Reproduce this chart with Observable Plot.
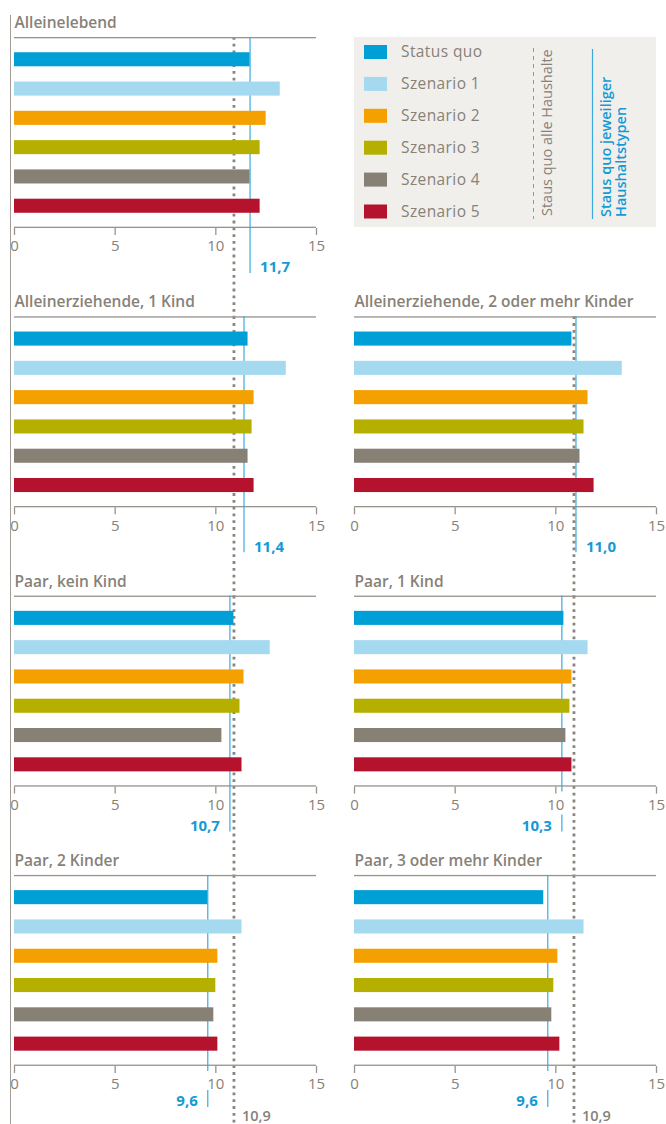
<!DOCTYPE html>
<html>
<head>
<meta charset="utf-8">
<script src="https://cdn.jsdelivr.net/npm/d3@7"></script>
<script src="https://cdn.jsdelivr.net/npm/@observablehq/plot@0.6"></script>
<style>
  html, body { margin: 0; padding: 0; background: #fff; }
  #chart { position: relative; width: 666px; height: 1124px; font-family: "Open Sans", sans-serif; }
  #leftline { position: absolute; left: 10px; top: 15px; bottom: 0; width: 1px; background: #a29d96; }
  #legend { position: absolute; left: 354px; top: 37px; }
  #chart svg { overflow: visible; }
</style>
</head>
<body>
<div id="chart"><div id="leftline"></div></div>
<script>
// ---------- data ----------
const panelTitles = [
  "Alleinelebend",
  "Alleinerziehende, 1 Kind",
  "Alleinerziehende, 2 oder mehr Kinder",
  "Paar, kein Kind",
  "Paar, 1 Kind",
  "Paar, 2 Kinder",
  "Paar, 3 oder mehr Kinder"
];
const scenarios = ["Status quo", "Szenario 1", "Szenario 2", "Szenario 3", "Szenario 4", "Szenario 5"];
const alleinlebend      = [11.7, 13.2, 12.5, 12.2, 11.7, 12.2];
const alleinerz1Kind    = [11.6, 13.5, 11.9, 11.8, 11.6, 11.9];
const alleinerz2Kinder  = [10.8, 13.3, 11.6, 11.4, 11.2, 11.9];
const paarKeinKind      = [10.9, 12.7, 11.4, 11.2, 10.3, 11.3];
const paar1Kind         = [10.4, 11.6, 10.8, 10.7, 10.5, 10.8];
const paar2Kinder       = [9.6, 11.3, 10.1, 10.0, 9.9, 10.1];
const paar3Kinder       = [9.4, 11.4, 10.1, 9.9, 9.8, 10.2];
const statusQuoTyp      = [11.7, 11.4, 11.0, 10.7, 10.3, 9.6, 9.6];
const statusQuoAlle     = 10.9;
const xTicks            = [0, 5, 10, 15];
const legendLineLabels  = ["Staus quo alle Haushalte", "Staus quo jeweiliger", "Haushaltstypen"];

// ---------- styles ----------
const scenarioColors = ["#009fd5", "#a4d9ef", "#f4a000", "#b5b000", "#878074", "#b4122d"];
const gray = "#878178";
const axisGray = "#97928b";
const blueLine = "#3aa9dc";
const blueText = "#159ad5";
const fmt = v => v.toFixed(1).replace(".", ",");

// ---------- layout ----------
const W = 666, H = 1124;
const mTop = 37, mLeft = 14, mRight = 10;
const rowStep = 279.3, panelH = 191, colStep = 340;
const rowGap = rowStep - panelH;
const mBottom = H - (mTop + 3 * rowStep + panelH);
const fxInner = 2 - (W - mLeft - mRight) / colStep;
const fyInner = 1 - panelH / rowStep;
const slots = [["L", 0], ["L", 1], ["R", 1], ["L", 2], ["R", 2], ["L", 3], ["R", 3]];
const seriesByPanel = [alleinlebend, alleinerz1Kind, alleinerz2Kinder, paarKeinKind, paar1Kind, paar2Kinder, paar3Kinder];

const panels = panelTitles.map((title, i) => ({title, col: slots[i][0], row: slots[i][1], sq: statusQuoTyp[i]}));
const bars = panels.flatMap((p, i) => scenarios.map((s, j) => ({col: p.col, row: p.row, scenario: s, value: seriesByPanel[i][j]})));
const axisTicks = panels.flatMap(p => xTicks.map(t => ({col: p.col, row: p.row, tick: t})));
const xMax = xTicks[xTicks.length - 1];
const lastRow = d3.max(panels, p => p.row);

const F = {fx: "col", fy: "row"};

// per-panel status-quo line and label
const sqMarks = panels.flatMap(p => {
  const labelDy = p.row === lastRow ? 35 : 39;
  const gap = Math.abs(p.sq - 10) < 0.6;
  const right = p.sq > statusQuoAlle;
  const m = [
    Plot.ruleX([p], {...F, x: "sq", stroke: blueLine, strokeWidth: 1.2,
      insetBottom: gap ? -5 : -(labelDy + 6)})
  ];
  if (gap) m.push(Plot.ruleX([p], {...F, x: "sq", stroke: blueLine, strokeWidth: 1.2,
      insetTop: panelH + labelDy - 11, insetBottom: -(labelDy + 6)}));
  m.push(Plot.text([p], {...F, x: "sq", text: d => fmt(d.sq), frameAnchor: "bottom", lineAnchor: "middle",
      dy: labelDy, dx: right ? 10 : -10, textAnchor: right ? "start" : "end",
      fill: blueText, fontWeight: 700, fontSize: 15}));
  return m;
});

const chart = Plot.plot({
  width: W, height: H,
  marginTop: mTop, marginBottom: mBottom, marginLeft: mLeft, marginRight: mRight,
  facet: {margin: 0},
  style: {fontFamily: "'Open Sans', sans-serif", fontSize: "14px", background: "transparent"},
  fx: {domain: ["L", "R"], paddingInner: fxInner, paddingOuter: 0, axis: null, round: false},
  fy: {domain: [0, 1, 2, 3], paddingInner: fyInner, paddingOuter: 0, axis: null, round: false},
  x: {domain: [0, xMax], axis: null},
  y: {domain: scenarios, padding: 0.52, axis: null, round: false},
  color: {domain: scenarios, range: scenarioColors},
  marks: [
    // dotted reference line (status quo, all households)
    Plot.ruleX(panels.filter(p => p.row < lastRow), {...F, x: () => statusQuoAlle, stroke: "#8a857d",
      strokeWidth: 2.8, strokeDasharray: "2.8,4", insetBottom: -rowGap}),
    Plot.ruleX(panels.filter(p => p.row === lastRow), {...F, x: () => statusQuoAlle, stroke: "#8a857d",
      strokeWidth: 2.8, strokeDasharray: "2.8,4", insetBottom: -mBottom}),
    // top rule and axis line
    Plot.rect(panels, {...F, x1: () => 0, x2: () => xMax, insetBottom: panelH - 1.3, fill: axisGray}),
    Plot.rect(panels, {...F, x1: () => 0, x2: () => xMax, insetTop: panelH - 1.3, fill: axisGray}),
    // ticks and tick labels
    Plot.ruleX(axisTicks, {...F, x: "tick", insetTop: panelH, insetBottom: -7, stroke: axisGray, strokeWidth: 1.3}),
    Plot.text(axisTicks, {...F, x: "tick", text: d => String(d.tick), frameAnchor: "bottom", lineAnchor: "middle",
      dy: 18, fill: gray, fontSize: 15}),
    ...sqMarks,
    // bars
    Plot.barX(bars, {...F, x: "value", y: "scenario", fill: "scenario"}),
    // titles
    Plot.text(panels, {...F, text: "title", frameAnchor: "top-left", lineAnchor: "middle", textAnchor: "start",
      dy: -14.5, fill: gray, fontWeight: 600, fontSize: 15.5, style: {letterSpacing: "0.45px"}}),
    // 10,9 labels at the bottom
    Plot.text(panels.filter(p => p.row === lastRow), {...F, x: () => statusQuoAlle, text: () => fmt(statusQuoAlle),
      frameAnchor: "bottom", lineAnchor: "middle", dy: 49.5, dx: 8, textAnchor: "start",
      fill: gray, fontWeight: 600, fontSize: 14.5})
  ]
});
document.getElementById("chart").appendChild(chart);

// ---------- legend ----------
const lw = 302, lh = 190;
const legend = d3.create("svg").attr("id", "legend").attr("width", lw).attr("height", lh)
  .style("font-family", "'Open Sans', sans-serif");
legend.append("rect").attr("width", lw).attr("height", lh).attr("fill", "#f1efec");
const ly = d3.scalePoint().domain(scenarios).range([15, 174.5]);
const items = legend.selectAll("g.item").data(scenarios).join("g").attr("class", "item")
  .attr("transform", d => `translate(0,${ly(d)})`);
items.append("rect").attr("x", 10).attr("y", -7).attr("width", 23).attr("height", 14)
  .attr("fill", (d, i) => scenarioColors[i]);
items.append("text").attr("x", 47).attr("dy", "0.35em").attr("fill", gray).attr("font-size", 15.5)
  .style("letter-spacing", "0.4px").text(d => d);
legend.append("line").attr("x1", 179.5).attr("x2", 179.5).attr("y1", 11).attr("y2", 182)
  .attr("stroke", "#9d988f").attr("stroke-dasharray", "4,4");
legend.append("text").attr("transform", "translate(193,179) rotate(-90)").attr("dy", "0.35em")
  .attr("fill", gray).attr("font-size", 14.5).text(legendLineLabels[0]);
legend.append("line").attr("x1", 238.5).attr("x2", 238.5).attr("y1", 12).attr("y2", 182)
  .attr("stroke", blueLine).attr("stroke-width", 1.2);
legend.append("text").attr("transform", "translate(252,180) rotate(-90)").attr("dy", "0.35em")
  .attr("fill", blueText).attr("font-size", 14.5).attr("font-weight", 600).text(legendLineLabels[1]);
legend.append("text").attr("transform", "translate(266.5,180) rotate(-90)").attr("dy", "0.35em")
  .attr("fill", blueText).attr("font-size", 14.5).attr("font-weight", 600).text(legendLineLabels[2]);
document.getElementById("chart").appendChild(legend.node());
</script>
</body>
</html>
